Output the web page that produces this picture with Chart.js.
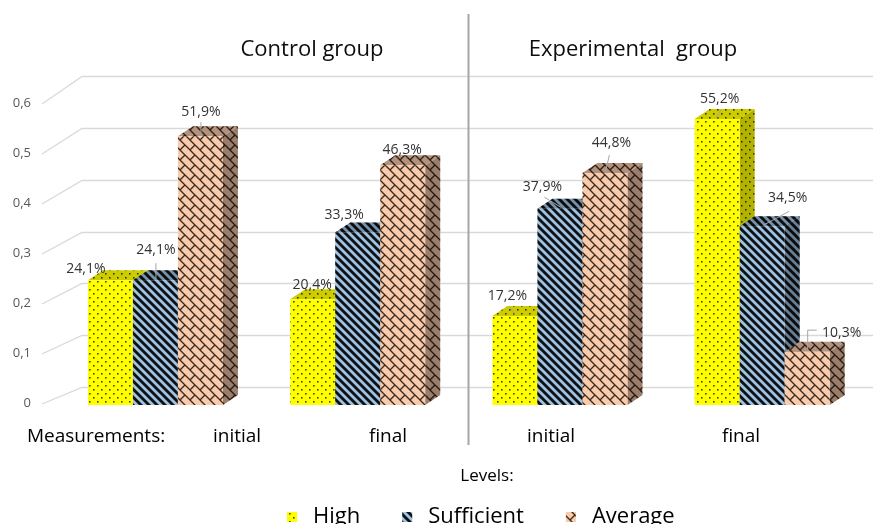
<!DOCTYPE html>
<html>
<head>
<meta charset="utf-8">
<script src="https://cdn.jsdelivr.net/npm/chart.js@4.4.1/dist/chart.umd.min.js"></script>
<style>
  html, body { margin: 0; padding: 0; background: #ffffff; overflow: hidden; }
  #wrap { width: 873px; height: 524px; overflow: hidden; position: relative; }
  canvas { display: block; }
</style>
</head>
<body>
<div id="wrap"><canvas id="chart" width="873" height="536"></canvas></div>
<script>
// ---- data ----
const categories = ['initial', 'final', 'initial', 'final'];
const seriesNames = ['High', 'Sufficient', 'Average'];
const highValues = [0.241, 0.204, 0.172, 0.552];
const sufficientValues = [0.241, 0.333, 0.379, 0.345];
const averageValues = [0.519, 0.463, 0.448, 0.103];
const yTicks = [0, 0.1, 0.2, 0.3, 0.4, 0.5, 0.6];
const groupTitles = ['Control group', 'Experimental  group'];
const axisCaption = 'Measurements:';
const legendCaption = 'Levels:';

// ---- layout / style ----
const FONT = '"Open Sans", "DejaVu Sans", sans-serif';
const depth = { x: 15, y: -10 };          // bar extrusion
const wall = { frontX: 42, backX: 82, backDy: -18 };
const titlePos = [{ x: 312, y: 50 }, { x: 633, y: 50 }];
const categoryLabelShift = [81.6, 30.3, -8.9, -21.2];
const labelRowY = 437;
// value label offsets from the bar's front-top centre: [dx, dy]
const labelOffsets = [
  [[-24.5, -11], [-0.5, -14], [-7.5, -20], [2.5, -20]],
  [[0.5, -30], [-13.5, -17.5], [-17.5, -21.5], [25.5, -28]],
  [[0.5, -24], [-0.5, -15], [6.5, -30], [34.5, -18.5]]
];
// leader lines from label towards the bar, relative to the same point
const leaders = [
  [null, null, [[-5.5, -9], [-0.5, -2]], [[3.5, -9], [-0.5, -1]]],
  [[[0.5, -17], [0.5, -1]], null, [[-15.5, -11.5], [1.5, -1]], [[27, -15], [1, -1]]],
  [[[0.5, -14], [0.5, -3]], null, [[4.5, -18], [0.5, -1]], [[9.5, -21.5], [0.5, -21.5], [0.5, -1.5]]]
];

const canvas = document.getElementById('chart');
const ctx0 = canvas.getContext('2d');

function makePattern(w, h, paint) {
  const c = document.createElement('canvas');
  c.width = w; c.height = h;
  const g = c.getContext('2d');
  paint(g, w, h);
  return ctx0.createPattern(c, 'repeat');
}

// dotted yellow
const patHigh = makePattern(8, 8, (g, w, h) => {
  g.fillStyle = '#ffff00'; g.fillRect(0, 0, w, h);
  g.fillStyle = '#4a4a00';
  g.fillRect(1, 1, 1.6, 1.6);
  g.fillRect(5, 5, 1.6, 1.6);
});
// blue with dark diagonal stripes
const patSufficient = makePattern(8, 8, (g, w, h) => {
  g.fillStyle = '#9dc3e6'; g.fillRect(0, 0, w, h);
  g.strokeStyle = '#111111'; g.lineWidth = 2.9;
  [-8, 0, 8].forEach(k => {
    g.beginPath(); g.moveTo(k - 2, -2); g.lineTo(k + w + 2, h + 2); g.stroke();
  });
});
// peach shingles
const patAverage = makePattern(10, 10, (g, w, h) => {
  g.fillStyle = '#f8cbad'; g.fillRect(0, 0, w, h);
  g.strokeStyle = '#3d2a1e'; g.lineWidth = 1.3;
  [-10, 0, 10].forEach(k => {
    g.beginPath(); g.moveTo(k - 1, -1); g.lineTo(k + 11, 11); g.stroke();
  });
  g.beginPath(); g.moveTo(5, 5); g.lineTo(0, 10); g.stroke();
  g.beginPath(); g.moveTo(15, 5); g.lineTo(10, 10); g.stroke();
  g.beginPath(); g.moveTo(5, -5); g.lineTo(0, 0); g.stroke();
});
const seriesPatterns = [patHigh, patSufficient, patAverage];
const topShade = [0.2, 0.25, 0.28];
const sideShade = [0.3, 0.35, 0.38];

function fmtPercent(v) { return (v * 100).toFixed(1).replace('.', ',') + '%'; }
function fmtTick(v) { return v === 0 ? '0' : v.toFixed(1).replace('.', ','); }

function poly(ctx, pts, fill, shade) {
  ctx.beginPath();
  ctx.moveTo(pts[0][0], pts[0][1]);
  for (let i = 1; i < pts.length; i++) ctx.lineTo(pts[i][0], pts[i][1]);
  ctx.closePath();
  ctx.fillStyle = fill; ctx.fill();
  if (shade) { ctx.fillStyle = 'rgba(0,0,0,' + shade + ')'; ctx.fill(); }
}

function drawBox(ctx, bar, s) {
  const l = bar.x - bar.width / 2, r = bar.x + bar.width / 2;
  const t = bar.y, b = bar.base;
  const dx = depth.x, dy = depth.y;
  // right side
  poly(ctx, [[r, t], [r + dx, t + dy], [r + dx, b + dy], [r, b]], seriesPatterns[s], sideShade[s]);
  // top
  poly(ctx, [[l, t], [r, t], [r + dx, t + dy], [l + dx, t + dy]], seriesPatterns[s], topShade[s]);
  // front
  poly(ctx, [[l, t], [r, t], [r, b], [l, b]], seriesPatterns[s], 0);
}

const boxesPlugin = {
  id: 'boxes3d',
  beforeDatasetsDraw(chart) {
    const ctx = chart.ctx;
    const ys = chart.scales.y, yl = chart.scales.yLabels;
    ctx.save();
    // back wall gridlines with their floor diagonals
    ctx.strokeStyle = '#d9d9d9';
    ctx.lineWidth = 1.3;
    yTicks.forEach(v => {
      const yb = Math.round(ys.getPixelForValue(v) + wall.backDy) + 0.5;
      const yf = yl.getPixelForValue(v) + 1;
      ctx.beginPath();
      ctx.moveTo(wall.frontX, yf);
      ctx.lineTo(wall.backX, yb);
      ctx.lineTo(chart.width, yb);
      ctx.stroke();
    });
    // tick labels
    ctx.fillStyle = '#595959';
    ctx.font = '13px ' + FONT;
    ctx.textAlign = 'right';
    ctx.textBaseline = 'middle';
    yTicks.forEach(v => ctx.fillText(fmtTick(v), 31, yl.getPixelForValue(v)));
    // bars, painted left to right inside each group
    const n = chart.data.labels.length;
    for (let i = 0; i < n; i++) {
      chart.data.datasets.forEach((ds, s) => {
        const bar = chart.getDatasetMeta(s).data[i];
        drawBox(ctx, bar, s);
      });
    }
    ctx.restore();
    return false;
  },
  afterDraw(chart) {
    const ctx = chart.ctx;
    const xs = chart.scales.x;
    ctx.save();
    // value labels and leaders
    chart.data.datasets.forEach((ds, s) => {
      const meta = chart.getDatasetMeta(s);
      ds.data.forEach((v, i) => {
        const bar = meta.data[i];
        const ax = bar.x, ay = bar.y;
        const ld = leaders[s][i];
        if (ld) {
          ctx.strokeStyle = '#a6a6a6';
          ctx.lineWidth = 1;
          ctx.beginPath();
          ld.forEach((p, k) => {
            const px = ax + p[0], py = ay + p[1];
            if (k === 0) ctx.moveTo(px, py); else ctx.lineTo(px, py);
          });
          ctx.stroke();
        }
        const off = labelOffsets[s][i];
        ctx.fillStyle = '#333333';
        ctx.font = '14px ' + FONT;
        ctx.textAlign = 'center';
        ctx.textBaseline = 'middle';
        ctx.fillText(fmtPercent(v), ax + off[0], ay + off[1]);
      });
    });
    // separator between the two groups
    ctx.strokeStyle = '#a6a6a6';
    ctx.lineWidth = 2;
    ctx.beginPath(); ctx.moveTo(468.5, 14); ctx.lineTo(468.5, 445); ctx.stroke();
    // group titles
    ctx.fillStyle = '#0d0d0d';
    ctx.font = '22px ' + FONT;
    ctx.textAlign = 'center';
    ctx.textBaseline = 'middle';
    groupTitles.forEach((t, k) => ctx.fillText(t, titlePos[k].x, titlePos[k].y));
    // measurement row
    ctx.font = '19px ' + FONT;
    ctx.fillStyle = '#000000';
    ctx.textAlign = 'left';
    ctx.fillText(axisCaption, 27, labelRowY);
    ctx.textAlign = 'center';
    chart.data.labels.forEach((lab, i) => {
      ctx.fillText(lab, xs.getPixelForValue(i) + categoryLabelShift[i], labelRowY);
    });
    // legend
    ctx.font = '17px ' + FONT;
    ctx.fillText(legendCaption, 487, 476);
    ctx.font = '22px ' + FONT;
    ctx.textAlign = 'left';
    ctx.textBaseline = 'alphabetic';
    let x = 287;
    chart.data.datasets.forEach((ds, s) => {
      ctx.fillStyle = seriesPatterns[s];
      ctx.fillRect(x, 512, 10, 10);
      ctx.fillStyle = '#000000';
      ctx.fillText(ds.label, x + 26, 523);
      x += 26 + ctx.measureText(ds.label).width + 42;
    });
    ctx.restore();
  }
};

new Chart(canvas, {
  type: 'bar',
  data: {
    labels: categories,
    datasets: [
      { label: seriesNames[0], data: highValues, backgroundColor: patHigh },
      { label: seriesNames[1], data: sufficientValues, backgroundColor: patSufficient },
      { label: seriesNames[2], data: averageValues, backgroundColor: patAverage }
    ]
  },
  options: {
    responsive: false,
    devicePixelRatio: 1,
    animation: false,
    layout: { padding: { left: 54.3, right: 9.7, top: 94.2, bottom: 131 } },
    datasets: { bar: { categoryPercentage: 0.6675, barPercentage: 1.0 } },
    scales: {
      x: { type: 'category', display: false, offset: true },
      y: { type: 'linear', display: false, min: 0, max: 0.6 },
      yLabels: { type: 'linear', axis: 'y', position: 'left', display: false, min: -0.004, max: 0.6176 }
    },
    plugins: { legend: { display: false }, title: { display: false }, tooltip: { enabled: false } }
  },
  plugins: [boxesPlugin]
});
</script>
</body>
</html>
